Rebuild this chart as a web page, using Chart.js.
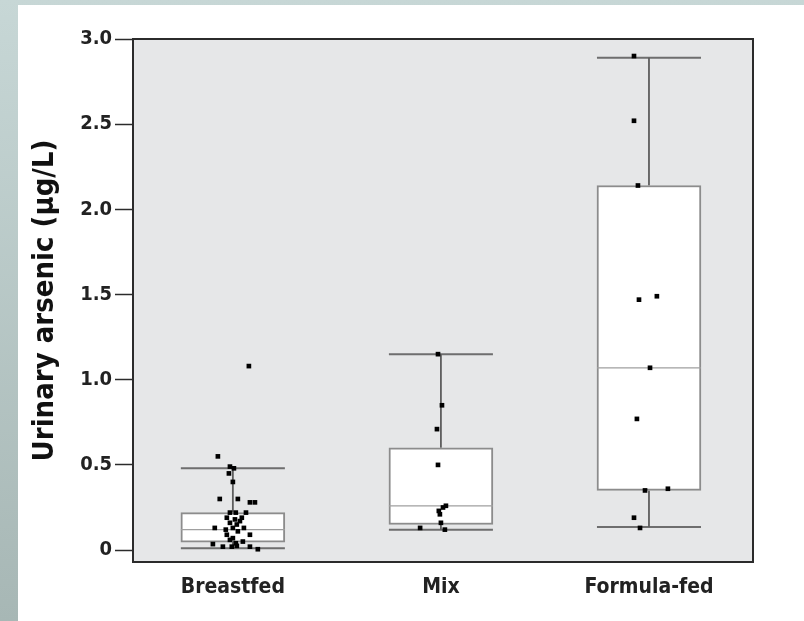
<!DOCTYPE html>
<html>
<head>
<meta charset="utf-8">
<script src="https://cdn.jsdelivr.net/npm/chart.js@4.4.1/dist/chart.umd.min.js"></script>
<style>
  html, body { margin: 0; padding: 0; }
  body {
    width: 804px; height: 621px; overflow: hidden;
    background: linear-gradient(to bottom, #c7d7d6, #a7b7b5);
  }
  #panel {
    position: absolute; left: 18px; top: 5px;
    width: 786px; height: 616px; background: #fff;
  }
</style>
</head>
<body>
<div id="panel"><canvas id="chart" width="786" height="616"></canvas></div>
<script>
const categories = ['Breastfed', 'Mix', 'Formula-fed'];
const yTickValues = [0, 0.5, 1, 1.5, 2, 2.5, 3];
const yTickLabels = ['0', '0.5', '1.0', '1.5', '2.0', '2.5', '3.0'];

// box plot stats per category
const whiskerLow = [0.01, 0.12, 0.135];
const quartile1 = [0.047, 0.15, 0.35];
const medians = [0.12, 0.26, 1.07];
const quartile3 = [0.22, 0.60, 2.14];
const whiskerHigh = [0.48, 1.15, 2.89];

// individual points (value + horizontal jitter)
const breastfedValues = [1.08, 0.55, 0.49, 0.48, 0.45, 0.40, 0.30, 0.30, 0.28, 0.28, 0.22, 0.22, 0.22, 0.19, 0.18, 0.19, 0.16, 0.15, 0.13, 0.13, 0.11, 0.09, 0.09, 0.07, 0.05, 0.06, 0.035, 0.02, 0.025, 0.02, 0.005, 0.02, 0.17, 0.12, 0.13, 0.04];
const breastfedJitter = [0.077, -0.072, -0.014, 0.005, -0.019, 0, -0.063, 0.024, 0.082, 0.106, -0.014, 0.014, 0.063, -0.029, 0.01, 0.043, -0.014, 0.019, -0.087, 0, 0.024, 0.082, -0.029, 0, 0.048, -0.014, -0.096, -0.048, 0.019, 0.082, 0.12, -0.005, 0.034, -0.034, 0.053, 0.014];
const mixValues = [1.15, 0.85, 0.71, 0.50, 0.26, 0.25, 0.23, 0.21, 0.16, 0.13, 0.12];
const mixJitter = [-0.014, 0.005, -0.019, -0.014, 0.024, 0.01, -0.01, -0.005, 0, -0.1, 0.019];
const formulaValues = [2.90, 2.52, 2.14, 1.47, 1.49, 1.07, 0.77, 0.35, 0.36, 0.19, 0.13];
const formulaJitter = [-0.072, -0.072, -0.053, -0.048, 0.038, 0.005, -0.058, -0.019, 0.091, -0.072, -0.043];

const BOX_HALF = 0.25;
const FONT = "'Liberation Sans Narrow', 'DejaVu Sans Condensed', 'Roboto Condensed', 'Liberation Sans', sans-serif";

// build point list
const pointSets = [
    [breastfedValues, breastfedJitter],
    [mixValues, mixJitter],
    [formulaValues, formulaJitter]
];
const points = [];
pointSets.forEach(([vals, jit], i) => {
    vals.forEach((v, k) => points.push({ x: i + jit[k], y: v }));
});

// whisker stems, whisker caps and medians as line segments split by gaps
const stems = [];
const caps = [];
const medianLines = [];
categories.forEach((c, i) => {
    stems.push({ x: i, y: quartile3[i] }, { x: i, y: whiskerHigh[i] }, { x: i, y: null });
    stems.push({ x: i, y: quartile1[i] }, { x: i, y: whiskerLow[i] }, { x: i, y: null });
    caps.push({ x: i - BOX_HALF, y: whiskerHigh[i] }, { x: i + BOX_HALF, y: whiskerHigh[i] }, { x: i, y: null });
    caps.push({ x: i - BOX_HALF, y: whiskerLow[i] }, { x: i + BOX_HALF, y: whiskerLow[i] }, { x: i, y: null });
    medianLines.push({ x: i - BOX_HALF, y: medians[i] }, { x: i + BOX_HALF, y: medians[i] }, { x: i, y: null });
});

const boxes = categories.map((c, i) => ({ x: i, y: [quartile1[i], quartile3[i]] }));

// plot background + frame
const framePlugin = {
    id: 'frame',
    beforeDraw(chart) {
        const { ctx, chartArea: a } = chart;
        ctx.save();
        ctx.fillStyle = '#e6e7e8';
        ctx.fillRect(a.left, a.top, a.right - a.left, a.bottom - a.top);
        ctx.restore();
    },
    afterDraw(chart) {
        const { ctx, chartArea: a } = chart;
        ctx.save();
        ctx.strokeStyle = '#2b2b2b';
        ctx.lineWidth = 2;
        ctx.strokeRect(a.left, a.top, a.right - a.left, a.bottom - a.top);
        ctx.restore();
    }
};

new Chart(document.getElementById('chart'), {
    type: 'scatter',
    data: {
        datasets: [
            {
                type: 'scatter',
                data: points,
                pointStyle: 'rect',
                pointRadius: 3.3,
                backgroundColor: '#000',
                borderColor: '#000',
                borderWidth: 0,
                order: 0
            },
            {
                type: 'scatter',
                data: medianLines,
                showLine: true,
                spanGaps: false,
                pointRadius: 0,
                borderColor: '#a0a0a0',
                borderWidth: 1.2,
                order: 1
            },
            {
                type: 'bar',
                data: boxes,
                backgroundColor: '#ffffff',
                borderColor: '#8c8c8c',
                borderWidth: 2,
                borderSkipped: false,
                barThickness: 104,
                order: 2
            },
            {
                type: 'scatter',
                data: stems,
                showLine: true,
                spanGaps: false,
                pointRadius: 0,
                borderColor: '#5e5e5e',
                borderWidth: 1.8,
                order: 3
            },
            {
                type: 'scatter',
                data: caps,
                showLine: true,
                spanGaps: false,
                pointRadius: 0,
                borderColor: '#6e6e6e',
                borderWidth: 2,
                order: 4
            }
        ]
    },
    options: {
        responsive: false,
        animation: false,
        layout: { padding: { top: 34, right: 51, left: 0, bottom: 0 } },
        plugins: {
            legend: { display: false },
            tooltip: { enabled: false }
        },
        scales: {
            x: {
                type: 'linear',
                min: -0.48,
                max: 2.5,
                offset: false,
                grid: { display: false, drawTicks: false, offset: false },
                border: { display: false },
                afterBuildTicks: (axis) => {
                    axis.ticks = categories.map((c, i) => ({ value: i }));
                },
                afterFit: (axis) => { axis.height = 59; },
                ticks: {
                    padding: 13,
                    color: '#222',
                    font: { family: FONT, size: 21, weight: 'bold' },
                    callback: (v) => categories[v]
                }
            },
            y: {
                type: 'linear',
                min: -0.07,
                max: 3,
                grid: {
                    drawOnChartArea: false,
                    drawTicks: true,
                    tickLength: 18,
                    tickWidth: 1.5,
                    tickColor: '#2b2b2b'
                },
                border: { display: false },
                afterBuildTicks: (axis) => {
                    axis.ticks = yTickValues.map(v => ({ value: v }));
                },
                afterFit: (axis) => { axis.width = 115; },
                ticks: {
                    padding: 3,
                    color: '#222',
                    font: { family: FONT, size: 20, weight: 'bold' },
                    callback: (v) => yTickLabels[yTickValues.indexOf(v)]
                },
                title: {
                    display: true,
                    text: 'Urinary arsenic (μg/L)',
                    color: '#111',
                    padding: { top: 10, bottom: 0 },
                    font: { family: FONT, size: 29, weight: 'bold' }
                }
            }
        }
    },
    plugins: [framePlugin]
});
</script>
</body>
</html>
